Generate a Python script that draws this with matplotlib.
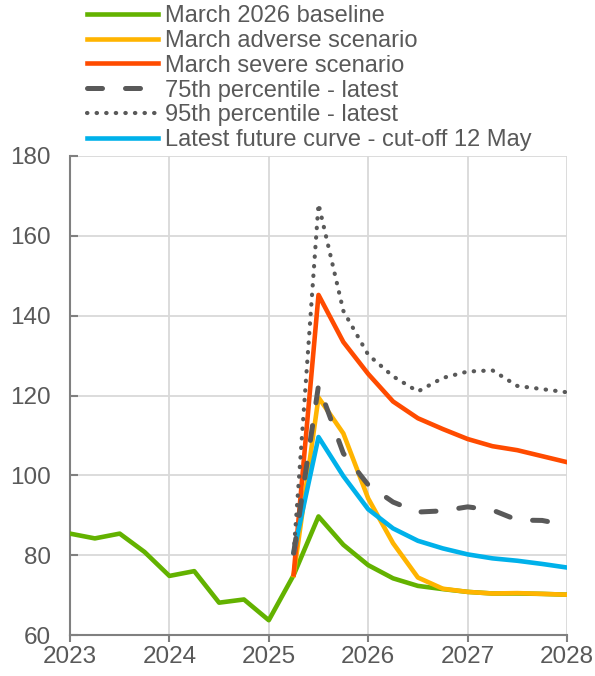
import matplotlib
matplotlib.use('Agg')
import matplotlib.pyplot as plt
from matplotlib.lines import Line2D

plt.rcParams['font.family'] = ['Liberation Sans', 'DejaVu Sans']

# quarterly x positions (year fractions)
x_hist = [2023.0, 2023.25, 2023.5, 2023.75, 2024.0, 2024.25, 2024.5, 2024.75, 2025.0,
          2025.25, 2025.5, 2025.75, 2026.0, 2026.25, 2026.5, 2026.75,
          2027.0, 2027.25, 2027.5, 2027.75, 2028.0]
x_proj = [2025.25, 2025.5, 2025.75, 2026.0, 2026.25, 2026.5, 2026.75,
          2027.0, 2027.25, 2027.5, 2027.75, 2028.0]

baseline = [85.4, 84.2, 85.4, 80.8, 74.8, 76.0, 68.1, 68.9, 63.7,
            75.0, 89.7, 82.6, 77.5, 74.2, 72.3, 71.5,
            70.8, 70.4, 70.4, 70.3, 70.1]
adverse = [75.0, 119.5, 110.5, 94.2, 83.0, 74.4, 71.6, 70.8, 70.4, 70.5, 70.3, 70.1]
severe = [75.2, 145.2, 133.4, 125.4, 118.5, 114.3, 111.6, 109.1, 107.3, 106.3, 104.8, 103.3]
pct75 = [80.5, 122.5, 105.5, 97.6, 93.3, 90.8, 91.1, 92.1, 91.3, 88.8, 88.7, 87.5]
pct95 = [80.5, 168.0, 141.2, 130.2, 124.8, 121.0, 124.4, 126.0, 126.3, 122.4, 121.6, 120.8]
futures = [80.7, 109.6, 99.8, 91.5, 86.7, 83.6, 81.7, 80.2, 79.2, 78.6, 77.8, 76.9]

labels = ['March 2026 baseline', 'March adverse scenario', 'March severe scenario',
          '75th percentile - latest', '95th percentile - latest',
          'Latest future curve - cut-off 12 May']

GREEN = '#63b200'
YELLOW = '#ffb400'
RED = '#ff4b00'
BLUE = '#00b1ea'
GREY = '#595959'
TXT = '#595959'

DASH = (0, (3.0, 4.6))
DOT = (0, (0.1, 2.2))

fig = plt.figure(figsize=(5.95, 6.76), dpi=100)
ax = fig.add_axes([70/595, 1 - 635/676, (567-70)/595, (635-156)/676])

lw = 3.3
ax.plot(x_hist, baseline, color=GREEN, lw=lw, zorder=3)
ax.plot(x_proj, adverse, color=YELLOW, lw=lw, zorder=4)
ax.plot(x_proj, severe, color=RED, lw=lw, zorder=4)
ax.plot(x_proj, futures, color=BLUE, lw=lw, zorder=5)
ax.plot(x_proj, pct75, color=GREY, lw=3.6, linestyle=DASH,
        dash_capstyle='round', zorder=6)
ax.plot(x_proj, pct95, color=GREY, lw=3.0, linestyle=DOT,
        dash_capstyle='round', zorder=6)

ax.set_xlim(2023, 2028)
ax.set_ylim(60, 180)
ax.set_xticks([2023, 2024, 2025, 2026, 2027, 2028])
ax.set_xticklabels(['2023', '2024', '2025', '2026', '2027', '2028'])
ax.set_yticks([60, 80, 100, 120, 140, 160, 180])

ax.grid(True, color='#d9d9d9', lw=1.3, zorder=0)
ax.set_axisbelow(True)
for s in ['top', 'right']:
    ax.spines[s].set_visible(False)
for s in ['left', 'bottom']:
    ax.spines[s].set_color('#808080')
    ax.spines[s].set_linewidth(1.5)

ax.tick_params(axis='both', labelsize=17.5, labelcolor=TXT, color='#808080', width=1.5)
ax.tick_params(axis='y', direction='in', length=6, pad=14)
ax.tick_params(axis='x', direction='out', length=5, pad=3)
ax.set_facecolor('white')

handles = [
    Line2D([], [], color=GREEN, lw=lw),
    Line2D([], [], color=YELLOW, lw=lw),
    Line2D([], [], color=RED, lw=lw),
    Line2D([], [], color=GREY, lw=3.6, linestyle=DASH, dash_capstyle='round'),
    Line2D([], [], color=GREY, lw=3.0, linestyle=DOT, dash_capstyle='round'),
    Line2D([], [], color=BLUE, lw=lw),
]
leg = fig.legend(handles, labels, loc='upper left', bbox_to_anchor=(87/595, 1 - 5/676),
                 frameon=False, fontsize=17, labelspacing=0.12, handlelength=3.0,
                 handletextpad=0.3, borderpad=0, borderaxespad=0)
for t in leg.get_texts():
    t.set_color(TXT)

fig.savefig('out.png', dpi=100)
